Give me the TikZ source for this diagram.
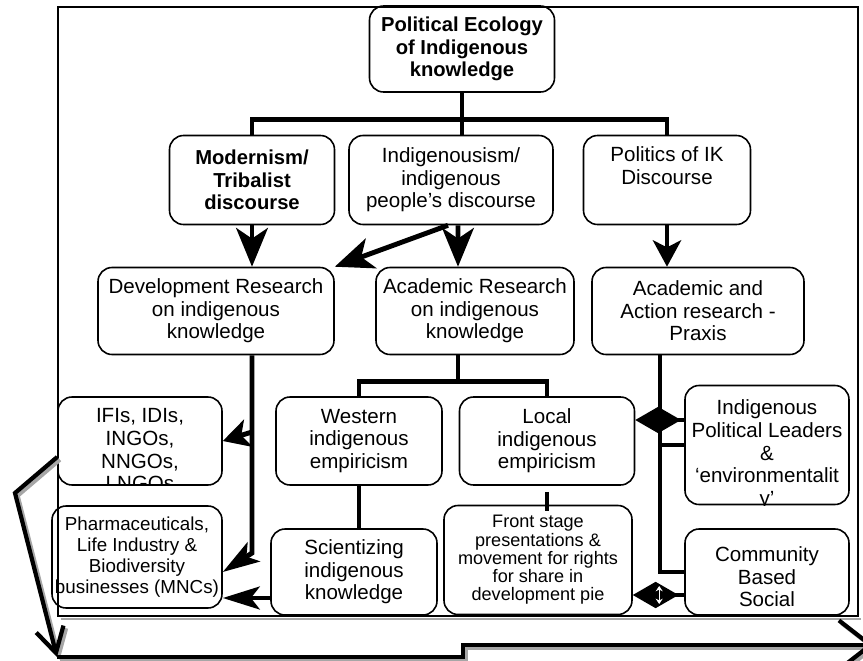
\documentclass[tikz,border=0pt]{standalone}
\usepackage{fontspec}
\setmainfont{Liberation Sans}
\usetikzlibrary{arrows.meta}

\begin{document}
\begin{tikzpicture}[x=0.02cm, y=-0.02cm,
  box/.style={draw, line width=0.9pt, rounded corners=8pt, align=center, inner sep=1pt,
    font=\fontsize{11.7}{12.8}\selectfont},
  bold/.style={font=\fontsize{11.5}{12.7}\selectfont\bfseries},
  small/.style={font=\fontsize{10.7}{11.9}\selectfont},
  smaller/.style={font=\fontsize{10.3}{10.4}\selectfont},
  sz/.style 2 args={minimum width={#1*0.02cm}, minimum height={#2*0.02cm}},
  txt/.style={align=center, inner sep=0pt, font=\fontsize{11.7}{12.9}\selectfont},
  link/.style={line width=2.8pt},
  arr/.style={link, -{Stealth[length=22pt, width=18pt, inset=6pt]}},
  arrS/.style={link, -{Stealth[length=15pt, width=16pt, inset=4pt]}},
  arrN/.style={link, -{Stealth[length=21pt, width=13pt, inset=5pt]}},
  dia/.style={link, -{Diamond[length=26pt, width=15pt]}},
  outer/.style={line width=2.4pt, line join=miter},
  ghost/.style={gray!70, transform canvas={xshift=1.5pt, yshift=-1.5pt}}]
  \useasboundingbox (0,0) rectangle (863,660);
  \clip (0,0) rectangle (863,660);

  \draw[ghost, line width=1.3pt] (58,616) -- (858,616);
  \draw[line width=1.3pt] (58,7) rectangle (858,616);

  \node[box, bold, sz={185}{86}] (top) at (462,49) {Political Ecology\\of Indigenous\\knowledge};
  \node[box, bold, sz={165}{89}] (modern) at (252,180) {Modernism/\\Tribalist\\discourse};
  \node[box, sz={204}{89}] (indig) at (451,180) {Indigenousism/\\indigenous\\people's discourse};
  \node[box, sz={167}{89}] (politics) at (667,180) {Politics of IK\\Discourse\\\strut};
  \node[box, sz={236}{87}] (devres) at (216,311) {Development Research\\on indigenous\\knowledge};
  \node[box, sz={198}{87}] (acres) at (475,311) {Academic Research\\on indigenous\\knowledge};
  \node[box, sz={212}{87}] (praxis) at (698,311) {Academic and\\Action research -\\Praxis};
  \node[box, sz={166}{88}] (western) at (359,441) {Western\\indigenous\\empiricism};
  \node[box, sz={175}{88}] (local) at (547,441) {Local\\indigenous\\empiricism};
  \node[box, small, sz={170}{102}] (pharma) at (137,557) {Pharmaceuticals,\\Life Industry \&\\Biodiversity\\businesses (MNCs)};
  \node[box, sz={166}{86}] (scient) at (354,572) {Scientizing\\indigenous\\knowledge};
  \node[box, smaller, sz={188}{109}] (front) at (538,560) {Front stage\\presentations \&\\movement for rights\\for share in\\development pie};
  \node[box, sz={164}{88}] (ifi) at (140,441) {};
  \node[box, sz={164}{119}] (ipl) at (767,445) {};
  \node[box, sz={164}{86}] (comm) at (767,572) {};
  \begin{scope}
    \clip[rounded corners=8pt] (ifi.south west) rectangle (ifi.north east);
    \node[txt, anchor=north] (ifitext) at ([yshift=-0.24cm]ifi.north) {IFIs, IDIs,\\INGOs,\\NNGOs,\\LNGOs};
  \end{scope}
  \begin{scope}
    \clip[rounded corners=8pt] (ipl.south west) rectangle (ipl.north east);
    \node[txt, anchor=north] (ipltext) at ([yshift=-0.3cm]ipl.north) {Indigenous\\Political Leaders\\\&\\`environmentalit\\y'};
  \end{scope}
  \begin{scope}
    \clip[rounded corners=8pt] (comm.south west) rectangle (comm.north east);
    \node[txt, anchor=north] (commtext) at ([yshift=-0.36cm]comm.north) {Community\\Based\\Social\\Movement};
  \end{scope}

  \draw[link] (top.south) -- (top.south |- indig.north);
  \draw[link] (modern.north) -- ++(0,-15) -| (politics.north);
  \draw[arr] (modern.south) -- (modern.south |- devres.north);
  \draw[arr] ([xshift=0.14cm]indig.south) -- ([xshift=-0.34cm]acres.north);
  \draw[arr] ([xshift=-0.06cm]indig.south) -- (devres.north east);
  \draw[arrS] (politics.south) -- (politics.south |- praxis.north);

  \draw[link] ([xshift=-0.34cm]acres.south) -- ++(0,27);
  \draw[link] (western.north) -- ++(0,-15) -| (local.north);
  \draw[line width=2pt] (western.south) -- (western.south |- scient.north);
  \draw[link] ([yshift=-0.12cm]local.south) -- ([yshift=-0.12cm]local.south |- front.north);

  \coordinate (devbend) at (252,553);
  \coordinate (tapA) at (252,432);
  \draw[arrN] ([xshift=0.72cm]devres.south) -- (devbend) -- ([yshift=-0.3cm]pharma.east);
  \draw[arrS] (tapA) -- (ifi.east);
  \draw[arrN] ([yshift=-0.52cm]scient.west) -- ([yshift=-0.52cm]scient.west -| pharma.east);

  \coordinate (pxline) at ([xshift=-0.76cm]praxis.south);
  \draw[link] (pxline) |- (comm.west);
  \draw[link] (pxline |- ipl.west) -- (ipl.west);
  \coordinate (dA) at ([yshift=0.5cm]ipl.west);
  \draw[dia] (dA) -- (dA -| local.east);
  \coordinate (dB) at ([yshift=-0.46cm]comm.west);
  \draw[dia] (dB) -- (dB -| front.east);
  \coordinate (dBm) at ([xshift=-0.5cm]dB);
  \draw[white, line width=0.7pt, {Stealth[length=3pt, width=4pt]}-{Stealth[length=3pt, width=4pt]}] ([yshift=0.18cm]dBm) -- ([yshift=-0.18cm]dBm);

  \coordinate (lbend) at (15,493);
  \coordinate (lend) at (57,657);
  \coordinate (rstep) at (463,645);
  \coordinate (rend) at (874,645);
  \draw[outer, ghost, -{Straight Barb[length=14pt, width=16pt]}] ([yshift=-0.32cm]ifi.west) -- (lbend) -- (lend);
  \draw[outer, -{Straight Barb[length=14pt, width=16pt]}] ([yshift=-0.32cm]ifi.west) -- (lbend) -- (lend);
  \draw[outer, ghost, -{Straight Barb[length=18pt, width=28pt]}] (lend) -| (rstep) -- (rend);
  \draw[outer, -{Straight Barb[length=18pt, width=28pt]}] (lend) -| (rstep) -- (rend);
\end{tikzpicture}
\end{document}
